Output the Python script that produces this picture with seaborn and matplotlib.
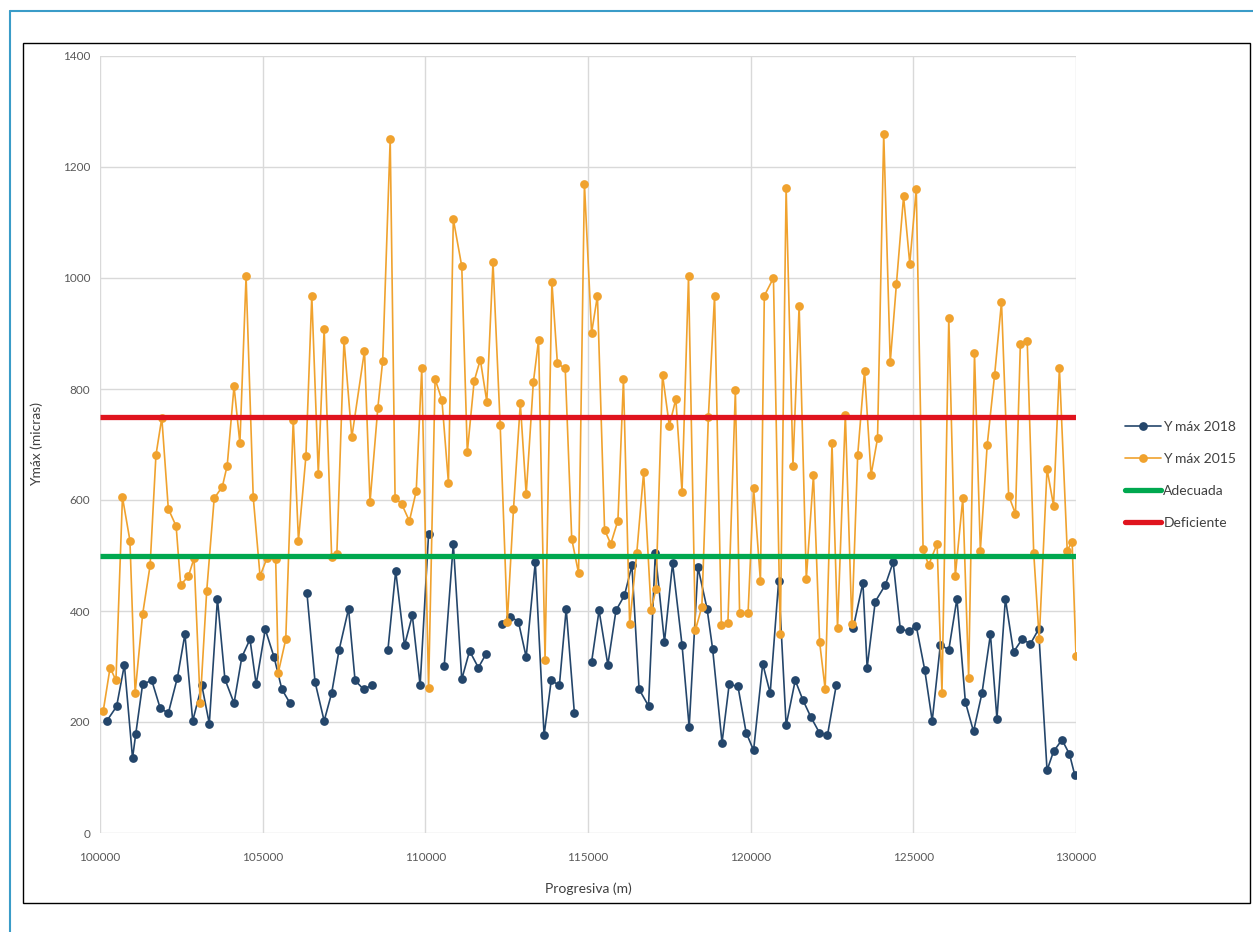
import numpy as np
import pandas as pd
import matplotlib
matplotlib.use("Agg")
import matplotlib.pyplot as plt
from matplotlib.lines import Line2D
from matplotlib.patches import Rectangle
import seaborn as sns

# Y max 2015 (progresiva en m, micras)
prog_2015 = [100100, 100310, 100490, 100690, 100920, 101080, 101310, 101540, 101720, 101900,
             102100, 102340, 102480, 102720, 102890, 103080, 103280, 103510, 103760, 103910,
             104120, 104300, 104490, 104710, 104920, 105130, 105400, 105480, 105710, 105940,
             106100, 106330, 106510, 106710, 106890, 107120, 107280, 107500, 107740, 108130,
             108300, 108540, 108690, 108920, 109070, 109280, 109510, 109720, 109890, 110100,
             110300, 110510, 110710, 110860, 111120, 111290, 111500, 111690, 111890, 112080,
             112300, 112520, 112710, 112920, 113100, 113320, 113480, 113680, 113890, 114060,
             114300, 114500, 114710, 114890, 115110, 115290, 115510, 115700, 115920, 116090,
             116280, 116500, 116710, 116940, 117090, 117290, 117500, 117700, 117890, 118090,
             118300, 118500, 118700, 118890, 119100, 119300, 119530, 119660, 119920, 120090,
             120300, 120420, 120700, 120910, 121090, 121300, 121490, 121710, 121930, 122120,
             122290, 122500, 122670, 122910, 123110, 123290, 123500, 123700, 123900, 124090,
             124290, 124480, 124700, 124890, 125090, 125300, 125470, 125730, 125880, 126090,
             126290, 126520, 126700, 126880, 127060, 127270, 127500, 127710, 127930, 128140,
             128290, 128500, 128700, 128870, 129110, 129310, 129490, 129730, 129880, 130000]
ymax_2015 = [220, 298, 275, 605, 527, 252, 394, 482, 681, 748,
             584, 553, 447, 463, 495, 234, 436, 603, 624, 662,
             805, 702, 1003, 605, 463, 495, 493, 289, 349, 745,
             527, 679, 968, 647, 908, 498, 502, 888, 713, 869,
             596, 766, 851, 1250, 604, 592, 562, 616, 837, 261,
             818, 780, 631, 1106, 1021, 686, 814, 853, 777, 1028,
             736, 381, 584, 774, 610, 812, 888, 312, 993, 846,
             837, 530, 468, 1170, 901, 968, 546, 521, 563, 818,
             376, 505, 650, 401, 440, 826, 734, 782, 615, 1003,
             365, 408, 750, 968, 374, 378, 798, 396, 396, 622,
             454, 968, 1000, 358, 1163, 662, 950, 457, 645, 344,
             259, 702, 369, 754, 376, 681, 833, 645, 711, 1260,
             848, 989, 1147, 1026, 1160, 511, 483, 521, 252, 928,
             463, 603, 280, 864, 509, 699, 826, 957, 608, 575,
             881, 887, 505, 349, 656, 590, 837, 509, 525, 319]

# Y max 2018 (hay tramos sin medicion)
prog_2018 = [100210, 100510, 100750, 101000, 101100, 101310, 101590, 101850, 102100, 102380,
             102610, 102850, 103130, 103360, 103610, 103840, 104120, 104360, 104610, 104800,
             105080, 105350, 105590, 105840,
             106360, 106610, 106890, 107120, 107350, 107640, 107840, 108100, 108350,
             108850, 109090, 109360, 109600, 109840, 110100,
             110580, 110860, 111120, 111360, 111630, 111870,
             112350, 112610, 112860, 113100, 113380, 113650, 113870, 114120, 114330, 114580,
             115110, 115340, 115610, 115860, 116120, 116350, 116570, 116860, 117070, 117350,
             117600, 117890, 118110, 118380, 118660, 118830, 119120, 119340, 119610, 119860,
             120090, 120370, 120600, 120860, 121090, 121370, 121610, 121850, 122110, 122360,
             122630,
             123150, 123450, 123580, 123830, 124140, 124380, 124600, 124860, 125090, 125350,
             125580, 125830, 126090, 126340, 126600, 126850, 127110, 127370, 127570, 127830,
             128080, 128340, 128600, 128850, 129110, 129310, 129570, 129800, 129960]
ymax_2018 = [202, 228, 303, 135, 179, 268, 275, 225, 216, 280,
             358, 202, 266, 197, 422, 277, 234, 317, 349, 268,
             367, 317, 259, 234,
             433, 272, 202, 252, 330, 404, 275, 259, 266,
             330, 472, 338, 392, 266, 539,
             301, 521, 277, 328, 298, 323,
             376, 390, 381, 317, 488, 176, 275, 266, 404, 217,
             308, 401, 303, 401, 428, 482, 259, 229, 505, 344,
             486, 339, 191, 479, 404, 332, 163, 268, 264, 181,
             149, 305, 252, 454, 194, 275, 239, 209, 181, 176,
             266,
             369, 451, 298, 417, 447, 488, 367, 364, 373, 294,
             202, 339, 330, 422, 236, 183, 252, 358, 206, 422,
             326, 349, 341, 367, 113, 147, 168, 142, 105]

limite_adecuada = 500
limite_deficiente = 750

df15 = pd.DataFrame({"prog": prog_2015, "ymax": ymax_2015})
df18 = pd.DataFrame({"prog": prog_2018, "ymax": ymax_2018})
# new segment wherever there is a gap in the 2018 survey
df18["tramo"] = (df18["prog"].diff() > 400).cumsum()

sns.set_style("white")
plt.rcParams["font.family"] = ["Lato", "DejaVu Sans"]

c_2018 = "#24466b"
c_2015 = "#f0a22e"
c_ok = "#00a84f"
c_bad = "#e0141e"
msize = 6.3

fig = plt.figure(figsize=(12.53, 9.32), dpi=100)
ax = fig.add_axes([100 / 1253, 1 - 833 / 932, 976 / 1253, 777 / 932])

sns.lineplot(data=df18, x="prog", y="ymax", units="tramo", estimator=None, ax=ax,
             color=c_2018, linewidth=1.2, marker="o", markersize=msize,
             markeredgewidth=0, zorder=3)
sns.lineplot(data=df15, x="prog", y="ymax", ax=ax, estimator=None,
             color=c_2015, linewidth=1.2, marker="o", markersize=msize,
             markeredgewidth=0, zorder=4)
ax.hlines(limite_adecuada, 100000, 130000, color=c_ok, linewidth=3.8, zorder=5)
ax.hlines(limite_deficiente, 100000, 130000, color=c_bad, linewidth=3.8, zorder=6)

ax.set_xlim(100000, 130000)
ax.set_ylim(0, 1400)
ax.set_xticks(np.arange(100000, 130001, 5000))
ax.set_yticks(np.arange(0, 1401, 200))
ax.grid(True, color="#d9d9d9", linewidth=1)
for s in ax.spines.values():
    s.set_visible(False)
ax.tick_params(axis="both", length=4, color="#d9d9d9", labelsize=8.5,
               labelcolor="#595959", pad=3)
ax.tick_params(axis="x", pad=10)
ax.set_xlabel("Progresiva (m)", fontsize=10, color="#404040", labelpad=14)
ax.set_ylabel("Ymáx (micras)", fontsize=10, color="#404040", labelpad=14)

handles = [
    Line2D([], [], color=c_2018, linewidth=1.2, marker="o", markersize=msize, markeredgewidth=0),
    Line2D([], [], color=c_2015, linewidth=1.2, marker="o", markersize=msize, markeredgewidth=0),
    Line2D([], [], color=c_ok, linewidth=3.8),
    Line2D([], [], color=c_bad, linewidth=3.8),
]
labels = ["Y máx 2018", "Y máx 2015", "Adecuada", "Deficiente"]
fig.legend(handles, labels, loc="center left", bbox_to_anchor=(1112 / 1253, 1 - 475 / 932),
           frameon=False, fontsize=10, labelspacing=1.45, handlelength=2.6,
           handletextpad=0.2, labelcolor="#404040")

# chart border and outer frame
fig.patches.append(Rectangle((23 / 1253, 1 - 903 / 932), 1227 / 1253, 860 / 932,
                             transform=fig.transFigure, fill=False,
                             edgecolor="black", linewidth=1))
fig.lines.append(Line2D([10 / 1253, 1], [1 - 11 / 932, 1 - 11 / 932],
                        transform=fig.transFigure, color="#3a9cc8", linewidth=1.5))
fig.lines.append(Line2D([10 / 1253, 10 / 1253], [0, 1 - 11 / 932],
                        transform=fig.transFigure, color="#3a9cc8", linewidth=1.5))

fig.savefig("out.png", dpi=100)
